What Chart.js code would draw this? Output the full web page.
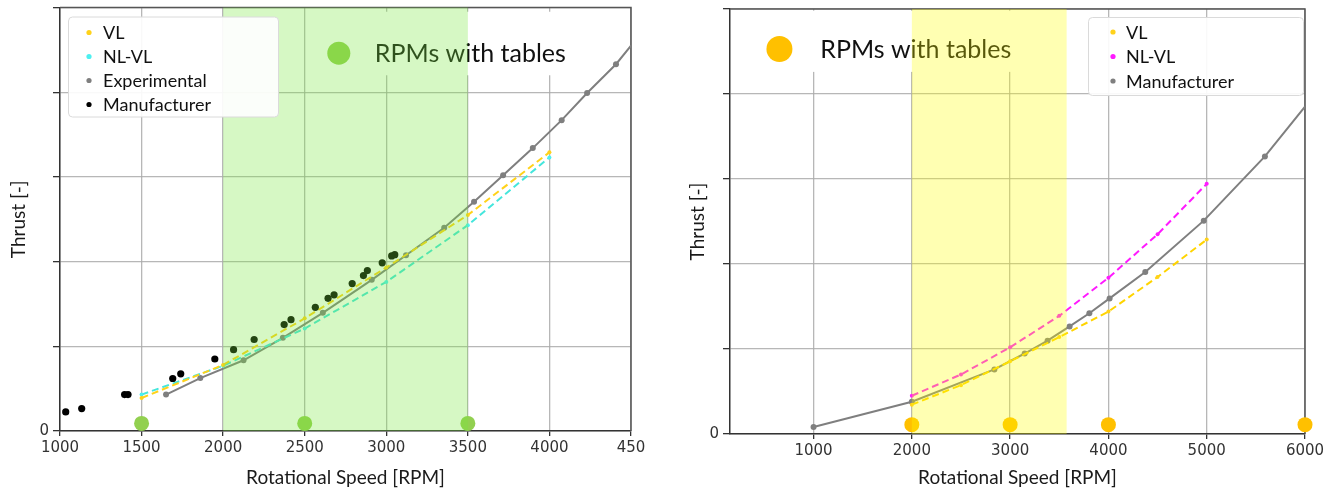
<!DOCTYPE html>
<html>
<head>
<meta charset="utf-8">
<script src="https://cdn.jsdelivr.net/npm/chart.js@4.4.1/dist/chart.umd.min.js"></script>
<style>
  html, body { margin: 0; padding: 0; background: #fff; }
  .panel { position: absolute; top: 0; height: 495px; }
  #left { left: 0; width: 660px; }
  #right { left: 670px; width: 670px; }
</style>
</head>
<body>
<div class="panel" id="left"><canvas id="leftChart"></canvas></div>
<div class="panel" id="right"><canvas id="rightChart"></canvas></div>
<script>
// --- left panel: thrust vs rpm (experimental rig) ---
const leftModelRpm = [1500, 2000, 2500, 3000, 3500, 4000];
const leftVL = [0.39, 0.78, 1.33, 1.93, 2.55, 3.29];
const leftNLVL = [0.43, 0.77, 1.21, 1.76, 2.43, 3.23];
const leftExpRpm = [1650, 1860, 2125, 2366, 2611, 2911, 3121, 3355, 3538, 3716, 3898, 4075, 4231, 4408, 4500];
const leftExpThrust = [0.43, 0.625, 0.835, 1.10, 1.395, 1.785, 2.075, 2.40, 2.706, 3.02, 3.34, 3.67, 3.99, 4.33, 4.55];
const leftManRpm = [1035, 1133, 1396, 1417, 1691, 1740, 1949, 2064, 2190, 2374, 2416, 2565, 2643, 2680, 2791, 2860, 2884, 2975, 3033, 3052];
const leftManThrust = [0.225, 0.265, 0.43, 0.43, 0.62, 0.675, 0.85, 0.96, 1.08, 1.257, 1.314, 1.46, 1.566, 1.608, 1.741, 1.835, 1.894, 1.985, 2.067, 2.082];
const leftTableRpm = [1500, 2500, 3500];
const leftTableThrust = [0.09, 0.09, 0.09];
const leftXTicks = [1000, 1500, 2000, 2500, 3000, 3500, 4000, 4500];

// --- right panel: thrust vs rpm (manufacturer data) ---
const rightModelRpm = [2000, 2500, 3000, 3500, 4000, 4500, 5000];
const rightVL = [0.345, 0.575, 0.855, 1.14, 1.44, 1.847, 2.287];
const rightNLVL = [0.45, 0.70, 1.02, 1.39, 1.837, 2.35, 2.943];
const rightManRpm = [1000, 2000, 2840, 3148, 3381, 3605, 3806, 4012, 4375, 4970, 5592, 6000];
const rightManThrust = [0.082, 0.38, 0.76, 0.947, 1.098, 1.266, 1.42, 1.595, 1.906, 2.51, 3.266, 3.85];
const rightTableRpm = [2000, 3000, 4000, 6000];
const rightTableThrust = [0.11, 0.11, 0.11, 0.11];
const rightXTicks = [1000, 2000, 3000, 4000, 5000, 6000];

const yTicks = [0, 1, 2, 3, 4, 5];

function pts(xs, ys) {
  return xs.map((v, i) => ({ x: v, y: ys[i] }));
}
// no marker on a point that sits on the plot edge
function lastHidden(xs, r) {
  return xs.map((v, i) => (i === xs.length - 1 ? 0 : r));
}

// shading band, "RPMs with tables" note, frame and in-plot legend
const decorPlugin = {
  id: 'decor',
  beforeDatasetsDraw(chart, args, opts) {
    const { ctx, chartArea: a, scales: { x, y } } = chart;
    ctx.save();
    ctx.strokeStyle = '#555';
    ctx.lineWidth = 1.5;
    ctx.beginPath();
    ctx.moveTo(a.left, a.top);
    ctx.lineTo(a.right, a.top);
    ctx.lineTo(a.right, a.bottom);
    ctx.stroke();

    const n = opts.note;
    const bx0 = x.getPixelForValue(n.box[0]);
    const bx1 = x.getPixelForValue(n.box[1]);
    const by0 = y.getPixelForValue(n.box[3]);
    const by1 = y.getPixelForValue(n.box[2]);
    ctx.fillStyle = '#fff';
    ctx.fillRect(bx0, by0, bx1 - bx0, by1 - by0);
    const cx = x.getPixelForValue(n.dot[0]);
    const cy = y.getPixelForValue(n.dot[1]);
    ctx.fillStyle = n.color;
    ctx.beginPath();
    ctx.arc(cx, cy, n.radius, 0, Math.PI * 2);
    ctx.fill();
    ctx.fillStyle = '#111';
    ctx.font = '25px Lato';
    ctx.textBaseline = 'middle';
    ctx.fillText(n.text, x.getPixelForValue(n.textX), cy + 1);
    ctx.restore();
  },
  afterDatasetsDraw(chart, args, opts) {
    const { ctx, chartArea: a, scales: { x } } = chart;
    const x0 = x.getPixelForValue(opts.band[0]);
    const x1 = x.getPixelForValue(opts.band[1]);
    ctx.save();
    ctx.fillStyle = opts.bandColor;
    ctx.fillRect(x0, a.top, x1 - x0, a.bottom - a.top);
    ctx.restore();
  },
  afterDraw(chart, args, opts) {
    const { ctx, chartArea: a } = chart;
    const L = opts.legend;
    const bx = a.left + L.dx;
    const by = a.top + L.dy;
    ctx.save();
    ctx.fillStyle = 'rgba(255,255,255,0.92)';
    ctx.strokeStyle = '#dadada';
    ctx.lineWidth = 1;
    ctx.beginPath();
    ctx.roundRect(bx + 0.5, by + 0.5, L.w, L.h, 4);
    ctx.fill();
    ctx.stroke();
    ctx.font = '18px Lato';
    ctx.textBaseline = 'middle';
    chart.data.datasets.filter(d => d.inLegend).forEach((d, i) => {
      const ty = by + L.first + i * L.row;
      ctx.fillStyle = d.pointBackgroundColor;
      ctx.beginPath();
      ctx.arc(bx + L.markX, ty, 2.6, 0, Math.PI * 2);
      ctx.fill();
      ctx.fillStyle = '#111';
      ctx.fillText(d.label, bx + L.textX, ty + 1);
    });
    ctx.restore();
  }
};

function axes(xMin, xMax, xTicks, xLabelFn, yWidth, xHeight, yTitlePad) {
  return {
    x: {
      type: 'linear', min: xMin, max: xMax,
      afterBuildTicks: s => { s.ticks = xTicks.map(v => ({ value: v })); },
      afterFit: s => { s.height = xHeight; s.paddingLeft = 0; s.paddingRight = 0; },
      grid: { color: 'rgba(170,170,170,0.85)', lineWidth: 1.3, tickLength: 5, tickColor: '#333' },
      border: { color: '#333', width: 1.5 },
      ticks: { font: { family: 'DejaVu Sans', size: 15 }, color: '#333', padding: 3, maxRotation: 0, callback: xLabelFn },
      title: { display: true, text: 'Rotational Speed [RPM]', font: { family: 'Lato', size: 19 }, color: '#1a1a1a', padding: { top: 0, bottom: 6 } }
    },
    y: {
      type: 'linear', min: 0, max: 5,
      afterBuildTicks: s => { s.ticks = yTicks.map(v => ({ value: v })); },
      afterFit: s => { s.width = yWidth; s.paddingTop = 0; s.paddingBottom = 0; },
      grid: { color: 'rgba(170,170,170,0.85)', lineWidth: 1.3, tickLength: 7, tickColor: '#333' },
      border: { color: '#333', width: 1.5 },
      ticks: { font: { family: 'DejaVu Sans', size: 15 }, color: '#333', padding: 4, callback: v => (v === 0 ? '0' : '') },
      title: { display: true, text: 'Thrust [-]', font: { family: 'Lato', size: 19 }, color: '#1a1a1a', padding: { top: yTitlePad, bottom: 0 } }
    }
  };
}

const dashed = { showLine: true, borderWidth: 2, borderDash: [7, 4], pointRadius: 2, pointHoverRadius: 2, inLegend: true };

new Chart(document.getElementById('leftChart'), {
  type: 'scatter',
  data: {
    datasets: [
      Object.assign({ label: 'VL', data: pts(leftModelRpm, leftVL), borderColor: '#ffd21a', pointBackgroundColor: '#ffd21a', pointBorderWidth: 0, order: 2 }, dashed),
      Object.assign({ label: 'NL-VL', data: pts(leftModelRpm, leftNLVL), borderColor: '#45e6dc', pointBackgroundColor: '#4df0f0', pointBorderWidth: 0, order: 3 }, dashed),
      { label: 'Experimental', data: pts(leftExpRpm, leftExpThrust), showLine: true, borderColor: '#7f7f7f', borderWidth: 2,
        pointBackgroundColor: '#7f7f7f', pointBorderWidth: 0, pointRadius: lastHidden(leftExpRpm, 3), order: 4, inLegend: true },
      { label: 'Manufacturer', data: pts(leftManRpm, leftManThrust), showLine: false, pointBackgroundColor: '#000', borderColor: '#000',
        pointBorderWidth: 0, pointRadius: 3.6, order: 1, inLegend: true },
      { label: 'tables', data: pts(leftTableRpm, leftTableThrust), showLine: false, pointBackgroundColor: '#92d050', pointBorderWidth: 0,
        pointRadius: 7.5, clip: false, order: 0 }
    ]
  },
  options: {
    responsive: true, maintainAspectRatio: false, animation: false, devicePixelRatio: 1,
    layout: { padding: { left: 0, top: 6, right: 29, bottom: 0 } },
    scales: axes(1000, 4500, leftXTicks, v => (v === 4500 ? '450' : String(v)), 60, 64, 7),
    plugins: {
      legend: { display: false }, tooltip: { enabled: false },
      decor: {
        band: [2000, 3500], bandColor: 'rgba(120,232,60,0.3)',
        note: { box: [2590, 4330, 4.2, 4.95], dot: [2709, 4.46], radius: 11.5, color: '#92d050', textX: 2930, text: 'RPMs with tables' },
        legend: { dx: 8, dy: 9, w: 210, h: 100, first: 16, row: 24, markX: 21, textX: 35 }
      }
    }
  },
  plugins: [decorPlugin]
});

new Chart(document.getElementById('rightChart'), {
  type: 'scatter',
  data: {
    datasets: [
      Object.assign({ label: 'VL', data: pts(rightModelRpm, rightVL), borderColor: '#ffd400', pointBackgroundColor: '#ffd21a', pointBorderWidth: 0, order: 2 }, dashed),
      Object.assign({ label: 'NL-VL', data: pts(rightModelRpm, rightNLVL), borderColor: '#ff1aff', pointBackgroundColor: '#ff1aff', pointBorderWidth: 0, order: 1 }, dashed),
      { label: 'Manufacturer', data: pts(rightManRpm, rightManThrust), showLine: true, borderColor: '#7f7f7f', borderWidth: 2,
        pointBackgroundColor: '#7f7f7f', pointBorderWidth: 0, pointRadius: lastHidden(rightManRpm, 3), order: 3, inLegend: true },
      { label: 'tables', data: pts(rightTableRpm, rightTableThrust), showLine: false, pointBackgroundColor: '#ffc000', pointBorderWidth: 0,
        pointRadius: 7.5, clip: false, order: 0 }
    ]
  },
  options: {
    responsive: true, maintainAspectRatio: false, animation: false, devicePixelRatio: 1,
    layout: { padding: { left: 0, top: 9, right: 35, bottom: 0 } },
    scales: axes(150, 6000, rightXTicks, v => String(v), 60, 61, 16),
    plugins: {
      legend: { display: false }, tooltip: { enabled: false },
      decor: {
        band: [2000, 3575], bandColor: 'rgba(255,255,0,0.3)',
        note: { box: [420, 3150, 4.26, 4.98], dot: [653, 4.53], radius: 13, color: '#ffc000', textX: 1068, text: 'RPMs with tables' },
        legend: { dx: 358, dy: 8, w: 215, h: 78, first: 15, row: 24.5, markX: 25, textX: 38 }
      }
    }
  },
  plugins: [decorPlugin]
});
</script>
</body>
</html>
